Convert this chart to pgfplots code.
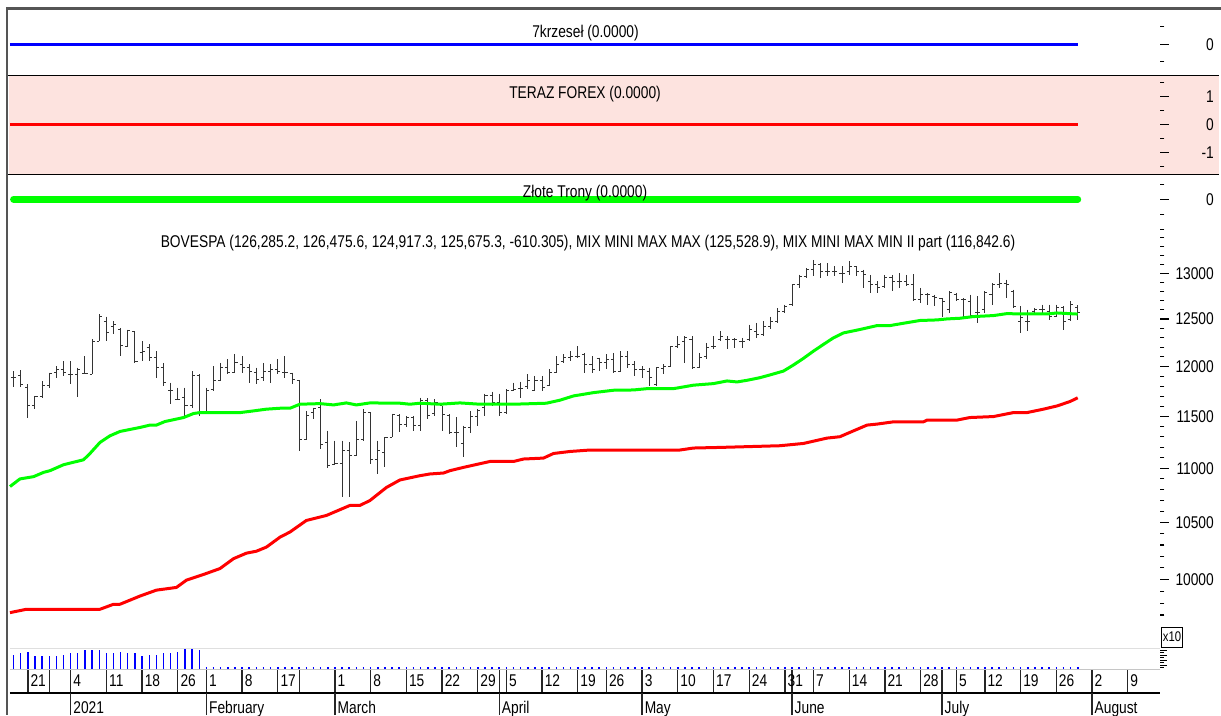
\documentclass[border=0pt]{standalone}
\usepackage{fontspec}
\setmainfont{Liberation Sans}[FakeStretch=0.81]
\usepackage{pgfplots}
\usepackage{pgfplotstable}
\pgfplotsset{compat=1.18}
\definecolor{pinkbg}{RGB}{253,227,223}
\definecolor{lime}{RGB}{0,255,0}
\definecolor{framec}{RGB}{85,85,85}
\newcommand\ff{\fontsize{17}{20}\selectfont}

\pgfplotstableread{
k O H L C
-8 11887 11955 11793 11894
-7 11905 11962 11793 11814
-6 11786 11821 11488 11603
-5 11603 11703 11571 11693
-4 11693 11854 11686 11804
-3 11804 11938 11786 11928
-2 11938 12006 11887 11972
-1 11972 12058 11905 11938
0 11921 12058 11821 11921
1 11921 11989 11693 11972
2 11934 12110 11921 11934
3 11921 12283 11921 12258
4 12265 12551 12265 12526
5 12476 12526 12265 12352
6 12423 12476 12335 12441
7 12388 12405 12110 12220
8 12213 12388 12213 12377
9 12370 12370 12040 12058
10 12143 12265 12058 12161
11 12196 12231 12058 12092
12 12092 12161 11887 11989
13 11989 12040 11804 11837
14 11753 11837 11620 11753
15 11670 11786 11660 11670
16 11686 11786 11505 11603
17 11603 11955 11587 11905
18 11905 11921 11505 11537
19 11537 11786 11537 11753
20 11770 12006 11753 11854
21 11854 12040 11854 11989
22 11989 12075 11921 11938
23 11938 12133 11938 12040
24 12024 12110 11938 11989
25 11989 12024 11837 11955
26 11938 11989 11821 11871
27 11887 12040 11854 11955
28 11955 12024 11837 11972
29 11972 12075 11921 11955
30 11938 12110 11887 11938
31 11934 11938 11821 11864
32 11861 11861 11166 11272
33 11272 11554 11272 11505
34 11534 11587 11476 11574
35 11587 11670 11182 11230
36 11246 11359 11001 11023
37 11033 11262 11033 11042
38 11048 11262 10730 11173
39 11166 11246 10730 11125
40 11125 11456 11118 11272
41 11272 11571 11262 11537
42 11534 11537 11040 11078
43 11078 11262 10946 11166
44 11150 11294 11008 11294
45 11294 11528 11294 11521
46 11505 11521 11343 11424
47 11424 11505 11392 11489
48 11489 11505 11359 11408
49 11408 11686 11359 11653
50 11660 11680 11473 11505
51 11528 11670 11505 11636
52 11603 11603 11359 11521
53 11505 11521 11327 11343
54 11343 11489 11204 11343
55 11233 11408 11102 11392
56 11392 11554 11333 11495
57 11495 11571 11408 11554
58 11587 11726 11505 11703
59 11703 11746 11603 11636
60 11636 11726 11505 11537
61 11537 11770 11528 11760
62 11760 11837 11760 11770
63 11773 11847 11686 11773
64 11793 11921 11770 11854
65 11753 11905 11753 11854
66 11854 11905 11753 11786
67 11804 11972 11804 11938
68 11938 12110 11938 12024
69 12058 12127 12040 12092
70 12092 12161 12058 12110
71 12110 12213 12092 12110
72 12127 12143 11938 12024
73 12024 12110 11938 11972
74 12079 12092 11955 12040
75 12040 12127 11972 12075
76 12075 12143 11938 11955
77 11955 12161 11955 12110
78 12110 12161 11989 12024
79 12024 12058 11905 11972
80 11975 12006 11887 11972
81 11955 11989 11804 11894
82 11814 11989 11804 11989
83 11986 12024 11921 12006
84 12006 12213 12006 12213
85 12213 12318 12196 12234
86 12265 12318 12040 12300
87 12286 12318 11972 11989
88 11996 12143 11989 12092
89 12110 12248 12075 12196
90 12213 12318 12178 12213
91 12286 12370 12265 12318
92 12286 12318 12178 12283
93 12286 12300 12196 12283
94 12265 12300 12196 12265
95 12286 12441 12265 12388
96 12370 12459 12300 12335
97 12338 12476 12318 12423
98 12423 12526 12391 12476
99 12476 12615 12455 12576
100 12583 12655 12565 12637
101 12655 12874 12637 12874
102 12874 12985 12837 12966
103 12966 13058 12947 13040
104 13043 13151 12966 13095
105 13098 13113 12947 13020
106 13020 13113 12966 13020
107 13020 13076 12966 13020
108 13001 13076 12891 13001
109 13020 13132 12983 13076
110 13076 13076 12966 13020
111 13020 13039 12837 12983
112 12910 12983 12782 12874
113 12877 12910 12782 12837
114 12855 12983 12837 12947
115 12947 12983 12800 12910
116 12910 13001 12837 12910
117 12910 12983 12855 12874
118 12877 12990 12691 12709
119 12713 12837 12673 12764
120 12767 12782 12655 12764
121 12746 12764 12637 12727
122 12724 12727 12526 12691
123 12601 12800 12565 12782
124 12767 12782 12691 12709
125 12713 12727 12526 12709
126 12691 12764 12526 12536
127 12565 12746 12455 12565
128 12601 12800 12565 12782
129 12767 12891 12655 12874
130 12874 13001 12837 12891
131 12891 12929 12727 12874
132 12800 12818 12619 12637
133 12476 12637 12352 12512
134 12476 12601 12370 12476
135 12583 12619 12547 12601
136 12601 12655 12547 12601
137 12583 12655 12494 12526
138 12526 12655 12526 12619
139 12619 12637 12388 12476
140 12498 12691 12476 12655
141 12628.5 12647.6 12491.7 12567.5
}\ohlc

\pgfplotstableread{
k v
-8 14.3
-7 16
-6 17.7
-5 12.7
-4 12.7
-3 12.7
-2 12.7
-1 14.3
0 16
1 16
2 19.3
3 19.3
4 19.3
5 16
6 16
7 17
8 16
9 16
10 12.7
11 14.3
12 14.3
13 16
14 16
15 17.7
16 21
17 21
18 19.3
}\vol

\def\hlpath{}\def\opath{}\def\cpath{}%
\pgfplotstablegetrowsof{\ohlc}%
\pgfmathtruncatemacro\lastrow{\pgfplotsretval-1}%
\pgfplotsforeachungrouped \rowi in {0,...,\lastrow}{%
  \pgfplotstablegetelem{\rowi}{k}\of\ohlc\let\vk\pgfplotsretval
  \pgfplotstablegetelem{\rowi}{O}\of\ohlc\let\vo\pgfplotsretval
  \pgfplotstablegetelem{\rowi}{H}\of\ohlc\let\vh\pgfplotsretval
  \pgfplotstablegetelem{\rowi}{L}\of\ohlc\let\vl\pgfplotsretval
  \pgfplotstablegetelem{\rowi}{C}\of\ohlc\let\vc\pgfplotsretval
  \pgfmathsetmacro\ka{\vk-0.36}%
  \pgfmathsetmacro\kb{\vk+0.36}%
  \xdef\hlpath{\hlpath (\vk,\vh) (\vk,\vl) (\vk,nan)}%
  \xdef\opath{\opath (\ka,\vo) (\vk,\vo) (\vk,nan)}%
  \xdef\cpath{\cpath (\vk,\vc) (\kb,\vc) (\vk,nan)}%
}%

\pgfplotsset{
  panel/.style={
    scale only axis, width=1152pt, anchor=north west,
    xmin=-8.78, xmax=152.52, clip=false,
    axis line style={draw=none},
    xtick=\empty,
    ytick pos=right, yticklabel pos=right,
    tick align=outside,
    major tick length=9pt, minor tick length=4.5pt,
    tick style={black, line width=1.1pt},
    yticklabel style={font=\ff, anchor=east, inner sep=0pt, xshift=45pt},
  },
  dateax/.style={
    scale only axis, width=1152pt, anchor=north west,
    xmin=-8.78, xmax=152.52, ymin=0, ymax=1, clip=false,
    axis line style={draw=none}, ytick=\empty,
    xtick pos=left, tick align=inside,
    tick style={black!85, line width=1.3pt},
  },
  ohlc/.style={black!80, line width=1pt, unbounded coords=jump, mark=none},
}

\begin{document}
\begin{tikzpicture}[font=\ff]
\fill[pinkbg] (9pt,-75.5pt) rectangle (1219pt,-174pt);

% panel 1
\begin{axis}[panel, at={(8pt,-8pt)}, height=67pt, ymin=-0.877, ymax=1.037,
  ytick={0}, yticklabels={0}, minor ytick={-0.5,0.5}]
\addplot[blue, line width=3pt] coordinates {(-8.5,0) (141,0)};
\node at (axis description cs:0.5013,0.627) {7krzeseł (0.0000)};
\end{axis}

% panel 2
\begin{axis}[panel, at={(8pt,-75pt)}, height=99pt, ymin=-1.775, ymax=1.761,
  ytick={-1,0,1}, yticklabels={-1,0,1}, minor ytick={-1.5,-0.5,0.5,1.5}]
\addplot[red, line width=2.5pt] coordinates {(-8.5,0) (141,0)};
\node at (axis description cs:0.5009,0.808) {TERAZ FOREX (0.0000)};
\end{axis}

% panel 3
\begin{axis}[panel, at={(8pt,-174pt)}, height=48pt, ymin=-0.757, ymax=0.843,
  ytick={0}, yticklabels={0}, minor ytick={-0.5,0.5}]
\addplot[lime, line width=7pt, line cap=round] coordinates {(-8.0,0) (141,0)};
\node at (axis description cs:0.5009,0.604) {Złote Trony (0.0000)};
\end{axis}

% main price panel
\begin{axis}[panel, at={(8pt,-222pt)}, height=426pt, ymode=log, ymin=9431, ymax=13585,
  ytick={10000,10500,11000,11500,12000,12500,13000},
  yticklabels={10000,10500,11000,11500,12000,12500,13000},
  minor ytick={9700,9800,9900,10100,10200,10300,10400,10600,10700,10800,10900,11100,11200,11300,11400,11600,11700,11800,11900,12100,12200,12300,12400,12600,12700,12800,12900,13100,13200,13300,13400,13500}]
\edef\plotcmds{%
  \noexpand\addplot[ohlc] coordinates {\hlpath};
  \noexpand\addplot[ohlc] coordinates {\opath};
  \noexpand\addplot[ohlc] coordinates {\cpath};
}\plotcmds
\addplot[lime, line width=3pt, line join=round] coordinates {(-8.5,10829) (-7.1,10900) (-5.2,10921) (-3.8,10961) (-2.9,10977) (-1.0,11033) (1.8,11080) (2.7,11140) (4.1,11246) (5.5,11310) (6.9,11352) (9.7,11391) (11.1,11414) (12.0,11414) (13.2,11449) (15.8,11488) (17.2,11528) (18.1,11537) (23.7,11537) (25.6,11554) (27.4,11571) (29.3,11580) (30.7,11580) (32.1,11620) (34.9,11626) (36.8,11613) (38.6,11633) (40.0,11613) (41.9,11633) (46.1,11630) (47.5,11620) (48.9,11630) (51.7,11620) (54.5,11633) (57.3,11620) (62.0,11620) (66.6,11630) (68.5,11660) (70.4,11703) (73.2,11736) (76.0,11760) (78.8,11763) (80.7,11776) (84.4,11776) (87.2,11811) (90.0,11827) (91.9,11854) (93.3,11844) (94.7,11861) (96.5,11887) (97.9,11915) (99.8,11955) (101.2,12017) (102.6,12086) (104.0,12161) (105.4,12231) (106.8,12300) (108.2,12352) (110.5,12388) (112.9,12430) (114.7,12430) (116.1,12448) (118.9,12484) (121.3,12490) (122.7,12501) (124.5,12508) (126.4,12526) (129.2,12537) (131.1,12558) (133.0,12554) (136.7,12554) (138.1,12565) (141,12553)};
\addplot[red, line width=3pt, line join=round] coordinates {(-8.5,9720) (-6.2,9748) (4.1,9748) (6.0,9790) (6.9,9790) (9.7,9859) (12.0,9909) (14.8,9932) (16.2,9994) (18.6,10043) (20.9,10094) (22.8,10180) (24.6,10228) (26.0,10245) (27.4,10281) (29.3,10369) (30.7,10415) (33.0,10519) (35.8,10564) (39.1,10655) (40.5,10655) (41.9,10700) (44.2,10820) (46.1,10890) (48.9,10930) (50.3,10946) (52.2,10955) (53.1,10977) (55.0,11008) (58.7,11064) (62.0,11064) (63.4,11087) (66.2,11096) (67.6,11140) (69.9,11159) (72.7,11173) (85.3,11173) (87.2,11192) (90.9,11198) (99.3,11214) (102.6,11236) (105.9,11288) (107.7,11301) (109.1,11343) (111.5,11414) (112.9,11424) (115.2,11446) (119.4,11446) (119.9,11463) (124.1,11463) (125.9,11488) (129.2,11498) (132.0,11537) (133.9,11537) (136.2,11571) (138.1,11603) (139.9,11646) (141,11684)};
\node at (axis description cs:0.5035,0.9507) {BOVESPA (126,285.2, 126,475.6, 124,917.3, 125,675.3, -610.305), MIX MINI MAX MAX (125,528.9), MIX MINI MAX MIN II part (116,842.6)};
\end{axis}

% volume panel
\begin{axis}[panel, at={(8pt,-648pt)}, height=21pt, ymin=0, ymax=21.3,
  ytick={4,9,14,19}, yticklabel=\empty, minor ytick={1.5,6.5,11.5,16.5},
  major tick length=7pt, minor tick length=4pt]
\addplot[ycomb, blue, line width=1.3pt, mark=none] table[x=k, y=v] {\vol};
\addplot[blue, line width=1.6pt, dash pattern=on 1.6pt off 5.542pt] coordinates {(18.888,0.9) (141.2,0.9)};
\draw[gray!25, line width=0.8pt] (axis cs:-8.5,21.3) -- (rel axis cs:1,1);
\end{axis}

% day axis
\begin{axis}[dateax, at={(8pt,-669pt)}, height=24pt, major tick length=24pt,
  xtick={-6,-3,0,5,10,15,19,24,29,32,37,42,47,52,57,60,61,66,71,75,80,85,90,95,100,101,104,109,114,119,122,124,128,133,138,143,148},
  xticklabels={21,,4,11,18,26,1,8,17,,1,8,15,22,29,,5,12,19,26,3,10,17,24,31,,7,14,21,28,,5,12,19,26,2,9},
  xticklabel style={font=\ff, anchor=west, inner sep=0pt, text height=12.2pt, text depth=0pt, xshift=2.5pt, yshift=12.4pt}]
\draw[gray!45, line width=0.8pt] (axis cs:-8.5,1) -- (rel axis cs:1,1);
\draw[black, line width=2pt] (axis cs:-8.5,0) -- (rel axis cs:1,0);
\end{axis}

% month axis
\begin{axis}[dateax, at={(8pt,-693pt)}, height=22pt, major tick length=22pt,
  xtick={0,19,37,60,80,101,122,143},
  xticklabels={2021,February,March,April,May,June,July,August},
  xticklabel style={font=\ff, anchor=west, inner sep=0pt, text height=12.2pt, text depth=3.6pt, xshift=2.5pt, yshift=6.3pt}]
\end{axis}

% frame and separators
\draw[black, line width=0.9pt] (8pt,-75.3pt) -- (1219pt,-75.3pt);
\draw[black, line width=0.9pt] (8pt,-174pt) -- (1219pt,-174pt);
\draw[framec, line width=2.5pt] (6pt,-8.5pt) -- (1221pt,-8.5pt);
\draw[framec, line width=2.5pt] (7pt,-7.5pt) -- (7pt,-715pt);
\node[draw=black, line width=0.8pt, minimum width=21pt, minimum height=20pt, inner sep=0pt, font=\fontsize{14}{15}\selectfont] at (1172pt,-637pt) {x10};

\pgfresetboundingbox
\path (0,0) rectangle (1221pt,-715pt);
\end{tikzpicture}
\end{document}
